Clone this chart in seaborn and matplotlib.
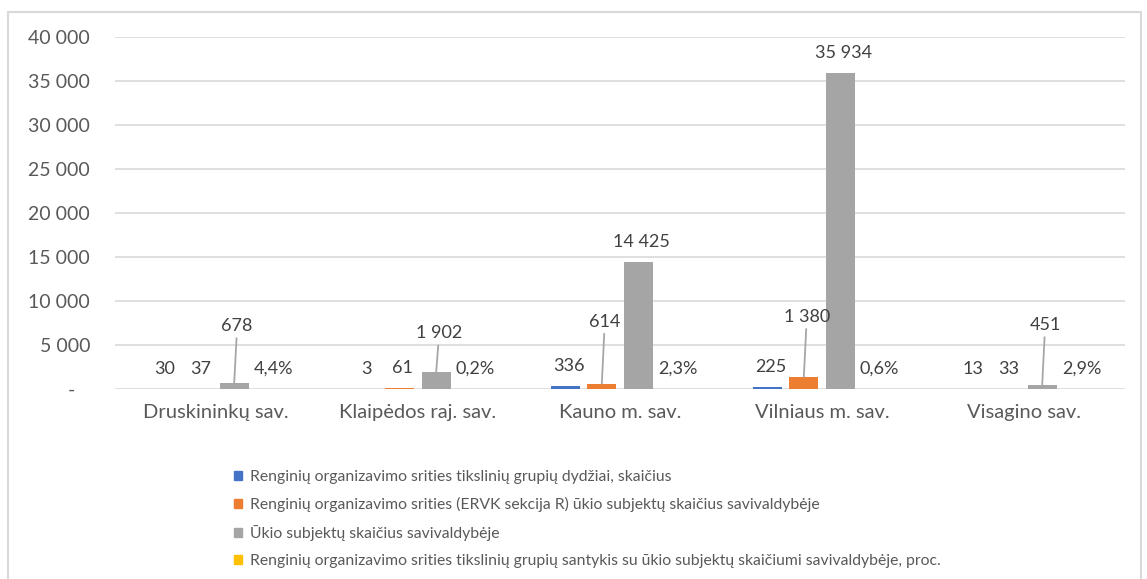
import pandas as pd
import seaborn as sns
import matplotlib.pyplot as plt
from matplotlib.patches import Rectangle

# Data
municipalities = ["Druskininkų sav.", "Klaipėdos raj. sav.", "Kauno m. sav.",
                  "Vilniaus m. sav.", "Visagino sav."]
series_names = [
    "Renginių organizavimo srities tikslinių grupių dydžiai, skaičius",
    "Renginių organizavimo srities (ERVK sekcija R) ūkio subjektų skaičius savivaldybėje",
    "Ūkio subjektų skaičius savivaldybėje",
    "Renginių organizavimo srities tikslinių grupių santykis su ūkio subjektų skaičiumi savivaldybėje, proc.",
]
target_groups = [30, 3, 336, 225, 13]
ervk_r_subjects = [37, 61, 614, 1380, 33]
all_subjects = [678, 1902, 14425, 35934, 451]
ratio_pct = [4.4, 0.2, 2.3, 0.6, 2.9]
y_ticks = [0, 5000, 10000, 15000, 20000, 25000, 30000, 35000, 40000]

colors = ["#4472C4", "#ED7D31", "#A5A5A5", "#FFC000"]

# long format table for seaborn
rows = []
for name, vals in zip(series_names, [target_groups, ervk_r_subjects, all_subjects, ratio_pct]):
    for m, v in zip(municipalities, vals):
        rows.append({"sav": m, "series": name, "value": v})
df = pd.DataFrame(rows)

# labels that were dragged up with a leader line: (series, municipality) -> pixels above bar
leader_offsets = {(2, 0): 57, (2, 1): 39, (1, 2): 62, (1, 3): 60, (2, 4): 60}

plt.rcParams["font.family"] = ["Lato", "DejaVu Sans"]

fig = plt.figure(figsize=(11.47, 5.79), dpi=100)
ax = fig.add_axes([115 / 1147, 1 - 389 / 579, 1010 / 1147, 352 / 579])

sns.barplot(data=df, x="sav", y="value", hue="series", hue_order=series_names,
            palette=colors, width=0.72, gap=0.2, dodge=True, legend=False,
            saturation=1, errorbar=None, ax=ax)

ax.set_ylim(0, 40000)
ax.set_xlim(-0.5, len(municipalities) - 0.5)
ax.set_yticks(y_ticks)
ax.set_yticklabels(["-   " if t == 0 else f"{t:,}".replace(",", " ") for t in y_ticks])
ax.set_xlabel("")
ax.set_ylabel("")
ax.yaxis.grid(True, color="#d9d9d9", lw=1.2)
ax.set_axisbelow(True)
for s in ax.spines.values():
    s.set_visible(False)
ax.tick_params(axis="y", length=0, pad=18, labelsize=14, labelcolor="#595959")
ax.tick_params(axis="x", length=0, pad=11, labelsize=14.5, labelcolor="#595959")

# data labels
for si, cont in enumerate(ax.containers):
    for ci, bar in enumerate(cont):
        v = bar.get_height()
        x = bar.get_x() + bar.get_width() / 2
        if si == 3:
            txt = f"{v:.1f}%".replace(".", ",")
        else:
            txt = f"{int(round(v)):,}".replace(",", " ")
        if (si, ci) in leader_offsets:
            ax.annotate(txt, xy=(x, v), xytext=(3, leader_offsets[(si, ci)]),
                        textcoords="offset pixels", ha="center", va="center",
                        fontsize=13, color="#404040",
                        arrowprops=dict(arrowstyle="-", color="#a6a6a6", lw=1.3,
                                        shrinkA=1, shrinkB=0))
        else:
            ax.annotate(txt, xy=(x, v), xytext=(3, 20), textcoords="offset pixels",
                        ha="center", va="center", fontsize=13, color="#404040")

# legend below the plot
handles = [Rectangle((0, 0), 1, 1, color=c) for c in colors]
fig.legend(handles, series_names, loc="upper left", bbox_to_anchor=(234 / 1147, 1 - 470 / 579),
           frameon=False, fontsize=11.3, labelcolor="#595959", handlelength=0.5,
           handleheight=0.5, handletextpad=0.5, labelspacing=0.82, borderpad=0,
           borderaxespad=0)

# chart border
fig.patches.append(Rectangle((8 / 1147, -0.02), 1133 / 1147, 1 - 12 / 579 + 0.02,
                             transform=fig.transFigure, fill=False,
                             edgecolor="#d9d9d9", lw=1.5))

fig.savefig("out.png", dpi=100)
